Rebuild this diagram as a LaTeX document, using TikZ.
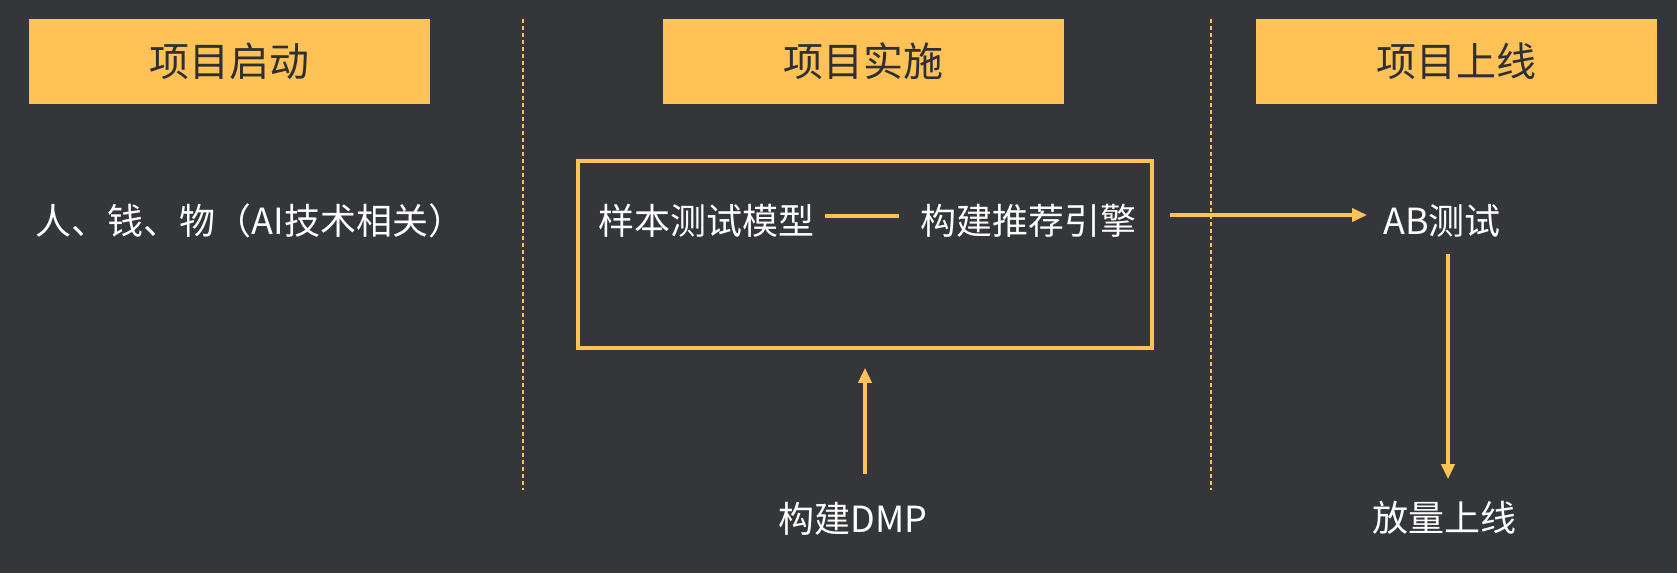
\documentclass[tikz,border=0pt]{standalone}
\usepackage{fontspec}
\setmainfont{Noto Sans CJK SC}
\usepackage{xcolor}
\usepackage{tikz}
\usetikzlibrary{arrows.meta,calc,positioning}
\definecolor{planDark}{HTML}{35363A}
\definecolor{planYellow}{HTML}{FFC257}
\definecolor{planInk}{HTML}{2E2F33}
\tikzset{
  phase box/.style={fill=planYellow, minimum width=401pt, minimum height=85pt,
    inner sep=0pt, text=planInk, font=\fontsize{40}{46}\selectfont},
  step text/.style={text=white, inner sep=2pt, font=\fontsize{36}{42}\selectfont},
  phase split/.style={draw=planYellow, line width=1.4pt, dash pattern=on 4pt off 3pt},
  stage frame/.style={draw=planYellow, line width=3.6pt, minimum width=574pt,
    minimum height=187pt, inner sep=0pt},
  flow/.style={-{Triangle[length=15pt,width=13pt]}, line width=3.6pt, draw=planYellow},
  link/.style={line width=3.6pt, draw=planYellow}
}

\begin{document}
\begin{tikzpicture}[x=1pt, y=-1pt]
  \fill[planDark] (0,0) rectangle (1677,573);
  \useasboundingbox (0,0) rectangle (1677,573);
  \node[phase box] (start) at (229.5,61.5) {项目启动};
  \node[phase box] (build) at (863.5,61.5) {项目实施};
  \node[phase box] (launch) at (1456.5,61.5) {项目上线};
  \draw[phase split] (523,19) -- (523,490);
  \draw[phase split] (1211,19) -- (1211,490);

  \node[step text] (res) at (250,221) {人、钱、物（AI技术相关）};
  \node[stage frame] (impl) at (865,254.5) {};
  \node[step text] (sample) at (706,221) {样本测试模型};
  \node[step text] (engine) at (1028,221) {构建推荐引擎};
  \node[step text] (dmp) at (853,519) {构建DMP};
  \node[step text] (abtest) at (1442,221) {AB测试};
  \node[step text] (golive) at (1444,518) {放量上线};

  \draw[link, shorten <=9pt, shorten >=19pt]
    ([yshift=5pt]sample.east) -- ([yshift=5pt]engine.west);
  \draw[flow, shorten <=32pt, shorten >=14pt]
    ([yshift=6pt]engine.east) -- ([yshift=6pt]abtest.west);
  \draw[flow, shorten <=26pt, shorten >=18pt] (dmp.north -| impl.south) -- (impl.south);
  \draw[flow, shorten <=14pt, shorten >=20pt]
    ([xshift=6pt]abtest.south) -- ([xshift=4pt]golive.north);
\end{tikzpicture}
\end{document}
